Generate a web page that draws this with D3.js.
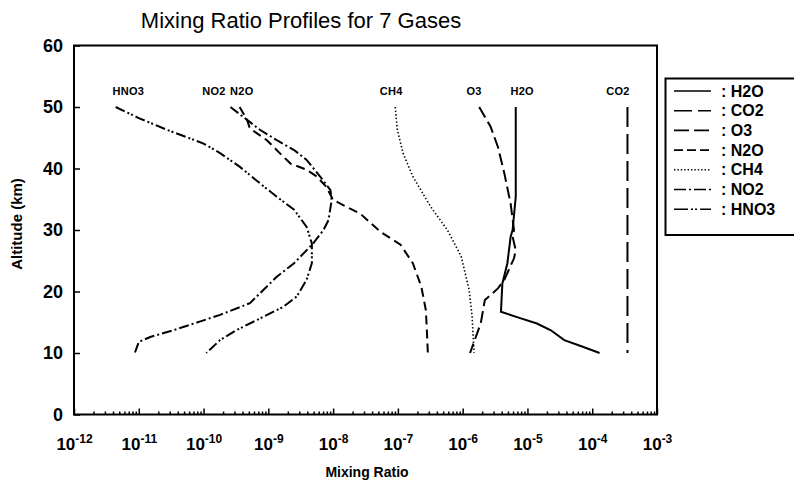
<!DOCTYPE html>
<html>
<head>
<meta charset="utf-8">
<script src="https://cdn.jsdelivr.net/npm/d3@7"></script>
<style>
  body { margin: 0; background: #fff; }
  svg { display: block; font-family: "Liberation Sans", Arial, sans-serif; }
</style>
</head>
<body>
<div id="chart"></div>
<script>
// 各气体廓线数据：[高度(km), 混合比]
const H2O = [[50, 6.6e-6], [35.4, 6.6e-6], [30, 5.9e-6], [28.9, 5.5e-6], [24.6, 4.9e-6], [21.3, 4.1e-6],
  [16.7, 3.9e-6], [15.8, 7.1e-6], [14.8, 1.4e-5], [13.7, 2.3e-5], [12.1, 3.7e-5], [11.1, 6.8e-5], [10, 1.3e-4]];
const CO2 = [[50, 3.5e-4], [10, 3.5e-4]];
const O3 = [[50, 1.8e-6], [46.8, 2.7e-6], [43.5, 3.5e-6], [39.2, 4.4e-6], [34.3, 5.5e-6], [30, 6.2e-6],
  [28.9, 5.9e-6], [26.7, 6.6e-6], [25.4, 6.2e-6], [21.9, 4.4e-6], [20.5, 3.5e-6], [18.6, 2.2e-6],
  [14.8, 1.9e-6], [10, 1.3e-6]];
const N2O = [[50, 3.6e-10], [47.9, 4.7e-10], [46.5, 5.2e-10], [44.6, 9.5e-10], [42.5, 1.5e-9], [40.8, 2.2e-9],
  [39.8, 3.9e-9], [38.7, 5.6e-9], [37, 7.9e-9], [34.9, 1.0e-8], [33.5, 1.8e-8], [32.7, 2.6e-8],
  [29.7, 5.4e-8], [27.6, 1.1e-7], [24.6, 1.7e-7], [20.8, 2.3e-7], [17, 2.7e-7], [13.7, 2.8e-7], [10, 2.9e-7]];
const CH4 = [[50, 9.1e-8], [46.3, 9.8e-8], [42.5, 1.2e-7], [38.7, 1.7e-7], [33.8, 3.2e-7], [30, 5.8e-7],
  [25.7, 9.5e-7], [20.2, 1.26e-6], [15.9, 1.4e-6], [10, 1.5e-6]];
const NO2 = [[50, 2.6e-10], [47.9, 4.7e-10], [46.3, 7.4e-10], [44.6, 1.35e-9], [43, 2.5e-9], [41.4, 3.9e-9],
  [38.7, 6.3e-9], [36.5, 9.1e-9], [34.9, 9.5e-9], [31.6, 8.5e-9], [30, 7.1e-9], [27.8, 4.9e-9],
  [24.6, 2.5e-9], [22.4, 1.35e-9], [19.7, 7.4e-10], [18.1, 5.2e-10], [16.2, 1.8e-10], [15.1, 8.7e-11],
  [13.7, 3.4e-11], [12.6, 1.5e-11], [11.8, 1.0e-11], [10, 8.7e-12]];
const HNO3 = [[50, 4.4e-12], [48.2, 1.0e-11], [46.3, 2.7e-11], [44.1, 9.8e-11], [42.5, 1.8e-10], [40.3, 3.6e-10],
  [37.6, 7.4e-10], [35.4, 1.35e-9], [33.3, 2.5e-9], [30.5, 3.9e-9], [27.8, 4.7e-9], [24.6, 4.7e-9],
  [21.9, 3.9e-9], [19.2, 2.75e-9], [17.5, 1.7e-9], [15.6, 7.4e-10], [13.7, 3.2e-10], [12.1, 1.8e-10], [10, 1.1e-10]];

const gasNames = ['H2O', 'CO2', 'O3', 'N2O', 'CH4', 'NO2', 'HNO3'];
// 曲线顶部的标注位置（混合比）
const labelMix = [8.3e-6, 2.5e-4, 1.5e-6, 3.9e-10, 7.9e-8, 1.45e-10, 6.9e-12];
const labelAlt = 52.6;

const xDecades = d3.range(-12, -2);   // 10^-12 ... 10^-3
const yTicks = [0, 10, 20, 30, 40, 50, 60];

// 线型
const dashes = {
  H2O: null,
  CO2: '20,7',
  O3: '12,5',
  N2O: '9,5',
  CH4: '1.4,2.2',
  NO2: '10,3,2,3',
  HNO3: '10,3,2,2,2,3'
};
const legendDashes = {
  H2O: null,
  CO2: '18,6',
  O3: '15,5',
  N2O: '9,4',
  CH4: '1.4,2',
  NO2: '12,3,2,3',
  HNO3: '14,3,2,2,2,3'
};

const series = { H2O, CO2, O3, N2O, CH4, NO2, HNO3 };

const width = 794, height = 486;
const plot = { left: 74, right: 657, top: 45.5, bottom: 414.5 };

const svg = d3.select('#chart').append('svg')
  .attr('width', width)
  .attr('height', height);

const x = d3.scaleLog()
  .domain([1e-12, 1e-3])
  .range([plot.left, plot.right]);

const y = d3.scaleLinear()
  .domain([0, 60])
  .range([plot.bottom, plot.top]);

// 标题
svg.append('text')
  .attr('x', 301)
  .attr('y', 28)
  .attr('text-anchor', 'middle')
  .style('font-size', '22px')
  .text('Mixing Ratio Profiles for 7 Gases');

// 次刻度
const minor = [];
xDecades.slice(0, -1).forEach(e => {
  for (let k = 2; k <= 9; k++) minor.push(k * Math.pow(10, e));
});

svg.append('g')
  .attr('transform', `translate(0, ${plot.bottom})`)
  .call(d3.axisBottom(x).tickValues(minor).tickSize(-3).tickFormat(''))
  .call(g => g.select('.domain').remove())
  .selectAll('line').attr('stroke-width', 1.5);

// X轴主刻度
const xAxis = svg.append('g')
  .attr('transform', `translate(0, ${plot.bottom})`)
  .call(d3.axisBottom(x)
    .tickValues(xDecades.map(e => Math.pow(10, e)))
    .tickSize(-6)
    .tickFormat(''));
xAxis.select('.domain').remove();
xAxis.selectAll('line').attr('stroke-width', 1.5);

xAxis.selectAll('.tick').append('text')
  .attr('fill', '#000')
  .attr('y', 35)
  .attr('text-anchor', 'middle')
  .style('font-size', '17px')
  .style('font-weight', 'bold')
  .each(function(d) {
    const t = d3.select(this);
    t.append('tspan').text('10');
    t.append('tspan')
      .attr('dy', -7)
      .style('font-size', '12px')
      .text(Math.round(Math.log10(d)));
  });

// Y轴
const yAxis = svg.append('g')
  .attr('transform', `translate(${plot.left}, 0)`)
  .call(d3.axisLeft(y).tickValues(yTicks).tickSize(-6).tickPadding(11));
yAxis.select('.domain').remove();
yAxis.selectAll('line').attr('stroke-width', 1.5);
yAxis.selectAll('text')
  .style('font-size', '18px')
  .style('font-weight', 'bold')
  .style('font-family', '"Liberation Sans", Arial, sans-serif');

// 边框
svg.append('rect')
  .attr('x', plot.left)
  .attr('y', plot.top)
  .attr('width', plot.right - plot.left)
  .attr('height', plot.bottom - plot.top)
  .attr('fill', 'none')
  .attr('stroke', '#000')
  .attr('stroke-width', 2);

// 轴标题
svg.append('text')
  .attr('transform', `translate(22, ${y(30) - 6}) rotate(-90)`)
  .attr('text-anchor', 'middle')
  .style('font-size', '15px')
  .style('font-weight', 'bold')
  .text('Altitude (km)');

svg.append('text')
  .attr('x', 367)
  .attr('y', 477)
  .attr('text-anchor', 'middle')
  .style('font-size', '14px')
  .style('font-weight', 'bold')
  .text('Mixing Ratio');

// 廓线
const line = d3.line()
  .x(d => x(d[1]))
  .y(d => y(d[0]));

gasNames.forEach(name => {
  svg.append('path')
    .datum(series[name])
    .attr('d', line)
    .attr('fill', 'none')
    .attr('stroke', '#000')
    .attr('stroke-width', name === 'CH4' ? 1.6 : 2)
    .attr('stroke-dasharray', dashes[name]);
});

// 曲线标注
svg.selectAll('.gas-label')
  .data(gasNames)
  .enter()
  .append('text')
  .attr('class', 'gas-label')
  .attr('x', (d, i) => x(labelMix[i]))
  .attr('y', y(labelAlt) + 4)
  .attr('text-anchor', 'middle')
  .style('font-size', '11px')
  .style('font-weight', 'bold')
  .style('letter-spacing', '0.3px')
  .text(d => d);

// 图例（右侧开口）
const legend = svg.append('g');
legend.append('path')
  .attr('d', `M800,78.5 H665.5 V235 H800`)
  .attr('fill', 'none')
  .attr('stroke', '#000')
  .attr('stroke-width', 2);

const rows = legend.selectAll('.row')
  .data(gasNames)
  .enter()
  .append('g')
  .attr('class', 'row')
  .attr('transform', (d, i) => `translate(0, ${91 + i * 19.7})`);

rows.append('line')
  .attr('x1', 674)
  .attr('x2', 711)
  .attr('stroke', '#000')
  .attr('stroke-width', 1.6)
  .attr('stroke-dasharray', d => legendDashes[d]);

rows.append('text')
  .attr('x', 721)
  .attr('y', 5.5)
  .style('font-size', '16px')
  .style('font-weight', 'bold')
  .text(d => ': ' + d);
</script>
</body>
</html>
